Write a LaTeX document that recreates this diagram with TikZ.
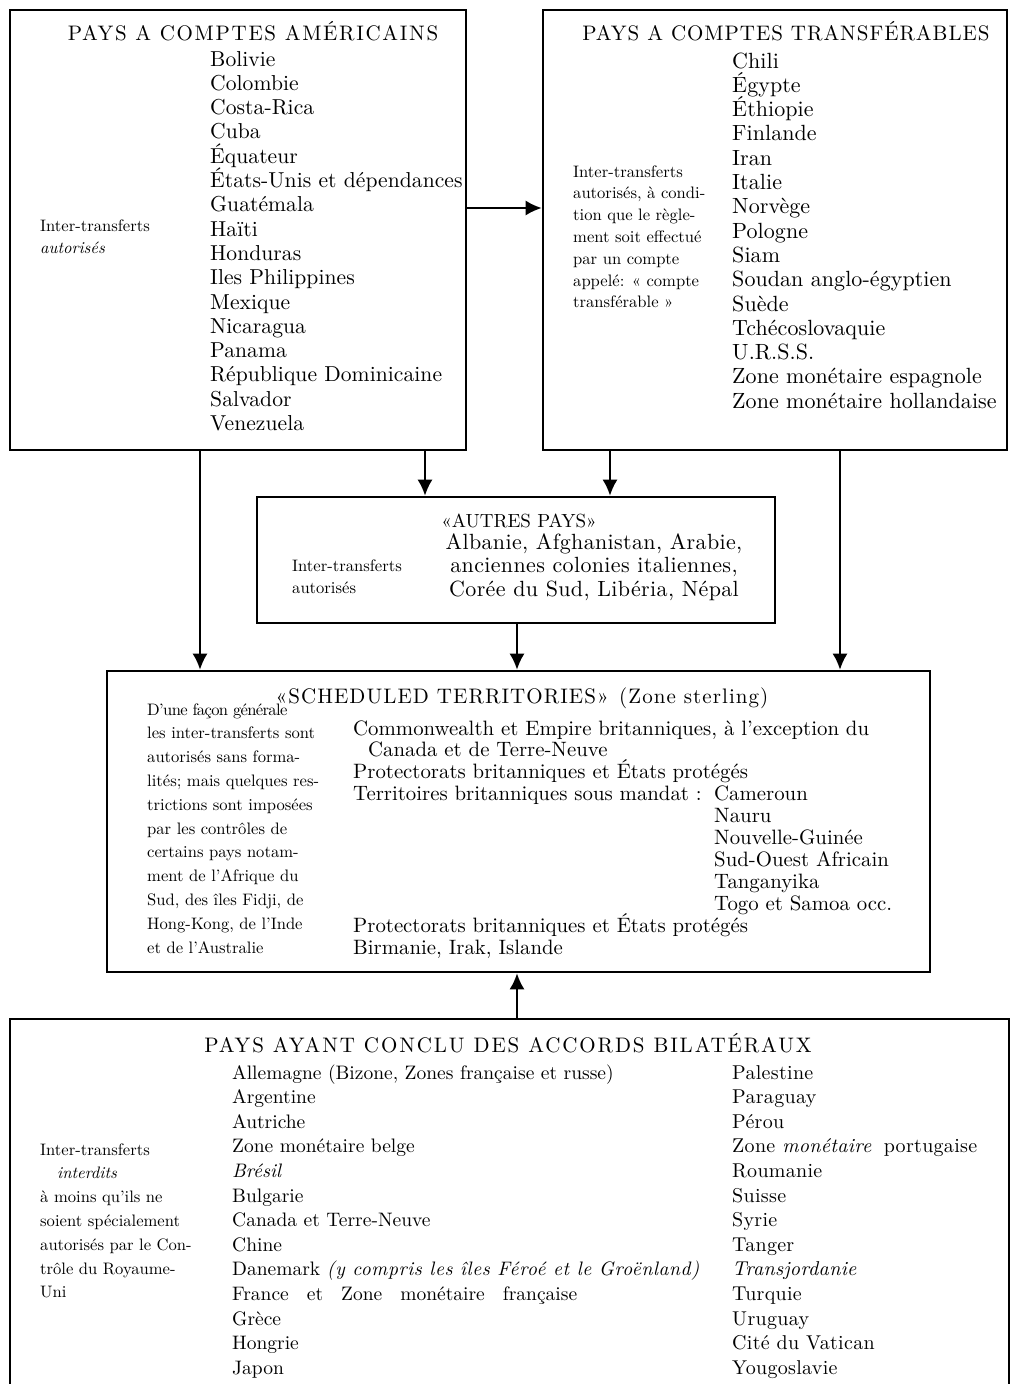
\documentclass[tikz,border=0pt]{standalone}
\usepackage{fontspec}
\setmainfont{lmroman10-regular.otf}[ItalicFont=lmroman10-italic.otf, BoldFont=lmroman10-bold.otf]
\usetikzlibrary{arrows.meta, positioning}
\tikzset{
  box/.style={draw, line width=2.6pt, inner sep=0pt},
  titre/.style={anchor=base, inner sep=0pt, font=\fontsize{21}{26}\selectfont\addfontfeature{LetterSpace=#1}},
  titre/.default=7,
  liste/.style n args={3}{anchor=base west, inner sep=0pt, font=\fontsize{#1}{#2}\selectfont\addfontfeature{LetterSpace=#3}},
  note/.style={anchor=base west, inner sep=0pt, font=\fontsize{16.6}{#1}\selectfont},
  arr/.style={-{Latex[length=16pt,width=15pt]}, line width=2pt},
}
\newcommand{\lignes}[1]{\begin{tabular}[t]{@{}l@{}}#1\end{tabular}}

\begin{document}
\begin{tikzpicture}[x=1pt, y=-1pt]
	\useasboundingbox (0,0) rectangle (1012,1384);
	\node[box, minimum width=456pt, minimum height=440pt] (amer) at (238,230) {};
	\node[box, minimum width=464pt, minimum height=440pt] (transf) at (775,230) {};
	\node[box, minimum width=518pt, minimum height=126pt] (autres) at (516,560) {};
	\node[box, minimum width=823pt, minimum height=301pt] (sched) at (518.5,821.5) {};
	\node[box, minimum width=999pt, minimum height=381pt] (bilat) at (509.5,1209.5) {};

	\node[titre=8] (tAmer) at (253,40) {PAYS A COMPTES AMÉRICAINS};
	\node[liste={21.6}{24.3}{0.2}] (lAmer) at (210,66) {\lignes{Bolivie\\Colombie\\Costa-Rica\\Cuba\\\smash{Équateur}\\\smash{États-Unis et dépendances}\\Guatémala\\Haïti\\Honduras\\Iles Philippines\\Mexique\\Nicaragua\\Panama\\République Dominicaine\\Salvador\\Venezuela}};
	\node[note=22] (nAmer) at (40,231) {\lignes{Inter-transferts\\\textit{autorisés}}};

	\node[titre=4.6] (tTransf) at (786,40) {PAYS A COMPTES TRANSFÉRABLES};
	\node[liste={22}{24.3}{0.3}] (lTransf) at (732,68) {\lignes{Chili\\\smash{Égypte}\\\smash{Éthiopie}\\Finlande\\Iran\\Italie\\Norvège\\Pologne\\Siam\\Soudan anglo-égyptien\\Suède\\Tchécoslovaquie\\U.R.S.S.\\Zone monétaire espagnole\\Zone monétaire hollandaise}};
	\node[note=21.8] (nTransf) at (573,177) {\lignes{Inter-transferts\\autorisés, à condi-\\tion que le règle-\\ment soit effectué\\par un compte\\appelé: « compte\\transférable »}};

	\node[titre=0, font=\fontsize{19}{24}\selectfont] (tAutres) at (519,527) {«AUTRES PAYS»};
	\node[liste={22}{23.5}{1.6}, anchor=base] (lAutres) at (594,549) {\begin{tabular}[t]{@{}c@{}}Albanie, Afghanistan, Arabie,\\anciennes colonies italiennes,\\Corée du Sud, Libéria, Népal\end{tabular}};
	\node[note=22] (nAutres) at (292,571) {\lignes{Inter-transferts\\autorisés}};

	\node[titre=5] (tSched) at (522,703) {«SCHEDULED TERRITORIES»\enspace(Zone sterling)};
	\node[note=23.8] (nSched) at (147,715) {\lignes{{\addfontfeature{LetterSpace=-4}D'une façon générale}\\les inter-transferts sont\\autorisés sans forma-\\lités; mais quelques res-\\trictions sont imposées\\par les contrôles de\\certains pays notam-\\ment de l'Afrique du\\Sud, des îles Fidji, de\\Hong-Kong, de l'Inde\\et de l'Australie}};
	\node[liste={20.8}{21.9}{0}] (lSched) at (353,735) {\begin{tabular}[t]{@{}p{361pt}@{}l@{}}
		\multicolumn{2}{@{}l@{}}{Commonwealth et Empire britanniques, à l'exception du}\\
		\multicolumn{2}{@{}l@{}}{\hspace{15pt}Canada et de Terre-Neuve}\\
		\multicolumn{2}{@{}l@{}}{\smash{Protectorats britanniques et États protégés}}\\
		Territoires britanniques sous mandat : & Cameroun\\
		& Nauru\\ & Nouvelle-Guinée\\ & Sud-Ouest Africain\\ & Tanganyika\\ & Togo et Samoa occ.\\
		\multicolumn{2}{@{}l@{}}{\smash{Protectorats britanniques et États protégés}}\\
		\multicolumn{2}{@{}l@{}}{Birmanie, Irak, Islande}
	\end{tabular}};

	\node[titre=9] (tBilat) at (508,1052) {PAYS AYANT CONCLU DES ACCORDS BILATÉRAUX};
	\node[note=23.8] (nBilat) at (40,1155) {\lignes{Inter-transferts\\\hspace{17pt}\textit{interdits}\\à moins qu'ils ne\\soient spécialement\\autorisés par le Con-\\trôle du Royaume-\\Uni}};
	\node[liste={19.5}{24.6}{0}] (lBilat) at (232,1079) {\lignes{Allemagne (Bizone, Zones française et russe)\\Argentine\\Autriche\\Zone monétaire belge\\\textit{Brésil}\\Bulgarie\\Canada et Terre-Neuve\\Chine\\Danemark \textit{\addfontfeature{LetterSpace=3}(y compris les îles Féroé et le Groënland)}\\France\hspace{18pt}et\hspace{18pt}Zone\hspace{18pt}monétaire\hspace{18pt}française\\Grèce\\Hongrie\\Japon}};
	\node[liste={20}{24.6}{1.5}] (lBilat2) at (732,1079) {\lignes{Palestine\\Paraguay\\Pérou\\Zone \textit{monétaire}\hspace{12pt}portugaise\\Roumanie\\Suisse\\Syrie\\Tanger\\\textit{Transjordanie}\\Turquie\\Uruguay\\Cité du Vatican\\Yougoslavie}};

	\coordinate (k0) at (0,208);
	\coordinate (k1) at (200,0);
	\coordinate (k2) at (425,0);
	\coordinate (k3) at (517,0);
	\coordinate (k4) at (610,0);
	\coordinate (k5) at (840,0);
	\draw[arr] (amer.east |- k0) -- (transf.west |- k0);
	\draw[arr] (amer.south -| k2) -- (autres.north -| k2);
	\draw[arr] (transf.south -| k4) -- (autres.north -| k4);
	\draw[arr] (amer.south -| k1) -- (sched.north -| k1);
	\draw[arr] (autres.south -| k3) -- (sched.north -| k3);
	\draw[arr] (transf.south -| k5) -- (sched.north -| k5);
	\draw[arr] (bilat.north -| k3) -- (sched.south -| k3);
\end{tikzpicture}
\end{document}
